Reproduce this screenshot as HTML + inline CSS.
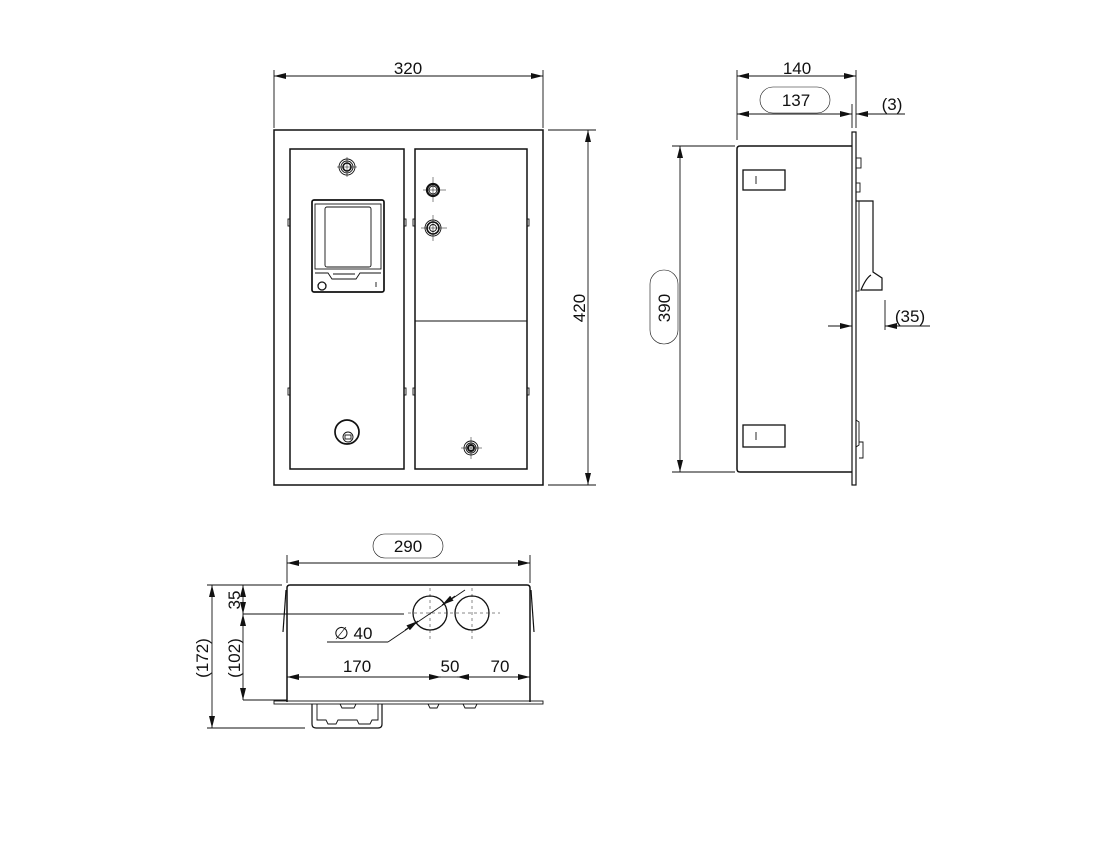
<!DOCTYPE html>
<html><head><meta charset="utf-8"><style>
html,body{margin:0;padding:0;background:#fff;}
svg{display:block;}
text{font-family:"Liberation Sans",sans-serif;font-size:17px;fill:#111;}
</style></head><body>
<svg width="1117" height="861" viewBox="0 0 1117 861" xmlns="http://www.w3.org/2000/svg">
<defs>
<marker id="a" viewBox="0 0 12 6" refX="12" refY="3" markerWidth="12" markerHeight="6" orient="auto-start-reverse" markerUnits="userSpaceOnUse"><path d="M0,0 L12,3 L0,6 z" fill="#111"/></marker>
</defs>
<g stroke="#111" fill="none" stroke-width="0.9">
<!-- FRONT VIEW -->
<line x1="274" y1="70" x2="274" y2="128"/><line x1="543" y1="70" x2="543" y2="128"/>
<line x1="274" y1="76" x2="543" y2="76" marker-start="url(#a)" marker-end="url(#a)"/>
<line x1="548" y1="130" x2="596" y2="130"/><line x1="548" y1="485" x2="596" y2="485"/>
<line x1="588" y1="130" x2="588" y2="485" marker-start="url(#a)" marker-end="url(#a)"/>
<rect x="274" y="130" width="269" height="355" stroke-width="1.5"/>
<rect x="290" y="149" width="114" height="320" stroke-width="1.5"/>
<rect x="415" y="149" width="112" height="320" stroke-width="1.5"/>
<line x1="415" y1="321" x2="527" y2="321" stroke-width="1.1"/>
<rect x="288" y="219" width="2" height="7"/><rect x="404" y="219" width="2" height="7"/><rect x="413" y="219" width="2" height="7"/><rect x="527" y="219" width="2" height="7"/>
<rect x="288" y="388" width="2" height="7"/><rect x="404" y="388" width="2" height="7"/><rect x="413" y="388" width="2" height="7"/><rect x="527" y="388" width="2" height="7"/>
<circle cx="347" cy="167" r="8"/><circle cx="347" cy="167" r="6"/><circle cx="347" cy="167" r="4" stroke-width="1.6"/>
<line x1="337" y1="167" x2="357" y2="167" stroke-width="0.5"/><line x1="347" y1="157" x2="347" y2="177" stroke-width="0.5"/>
<rect x="312" y="200" width="72" height="92" rx="2" stroke-width="1.7"/>
<rect x="315" y="204" width="66" height="65"/>
<rect x="325" y="207" width="46" height="60" rx="2"/>
<path d="M315,273 L328,273 L332,279 L356,279 L360,273 L381,273" />
<line x1="333" y1="274" x2="355" y2="274"/>
<circle cx="322" cy="286" r="4" stroke-width="1.3"/>
<line x1="376" y1="282" x2="376" y2="287"/>
<circle cx="433" cy="190" r="6" stroke-width="2.2"/><circle cx="433" cy="190" r="4"/>
<line x1="423" y1="190" x2="446" y2="190" stroke-width="0.5"/><line x1="433" y1="177" x2="433" y2="202" stroke-width="0.5"/>
<circle cx="433" cy="228" r="8"/><circle cx="433" cy="228" r="6" stroke-width="1.6"/><circle cx="433" cy="228" r="3.5"/>
<line x1="421" y1="228" x2="447" y2="228" stroke-width="0.5"/><line x1="433" y1="215" x2="433" y2="241" stroke-width="0.5"/>
<circle cx="347" cy="432" r="12" stroke-width="1.7"/>
<circle cx="348" cy="437" r="5"/><rect x="345" y="435" width="6" height="4"/>
<circle cx="471" cy="448" r="7"/><circle cx="471" cy="448" r="5"/><circle cx="471" cy="448" r="3" stroke-width="2"/>
<line x1="461" y1="448" x2="482" y2="448" stroke-width="0.5"/><line x1="471" y1="437" x2="471" y2="459" stroke-width="0.5"/>

<!-- SIDE VIEW -->
<line x1="737" y1="70" x2="737" y2="140"/><line x1="856" y1="70" x2="856" y2="128"/>
<line x1="737" y1="76" x2="856" y2="76" marker-start="url(#a)" marker-end="url(#a)"/>
<line x1="737" y1="114" x2="852" y2="114" marker-start="url(#a)" marker-end="url(#a)"/>
<line x1="852" y1="104" x2="852" y2="128"/>
<line x1="856" y1="114" x2="905" y2="114" marker-start="url(#a)"/>
<rect x="760" y="87" width="70" height="26" rx="13" stroke-width="0.6"/>
<line x1="672" y1="146" x2="735" y2="146"/><line x1="672" y1="472" x2="735" y2="472"/>
<line x1="680" y1="146" x2="680" y2="472" marker-start="url(#a)" marker-end="url(#a)"/>
<rect x="650" y="270" width="28" height="74" rx="14" stroke-width="0.6"/>
<path d="M737,149 Q737,146 740,146 L852,146" stroke-width="1.5"/>
<path d="M737,149 L737,469 Q737,472 740,472 L852,472" stroke-width="1.5"/>
<rect x="852" y="132" width="4" height="353" stroke-width="1.2"/>
<rect x="743" y="170" width="42" height="20" stroke-width="1.3"/><line x1="756" y1="176" x2="756" y2="184"/>
<rect x="743" y="425" width="42" height="22" stroke-width="1.3"/><line x1="756" y1="432" x2="756" y2="440"/>
<rect x="856" y="158" width="5" height="10"/><rect x="856" y="183" width="4" height="9"/>
<path d="M856,201 L873,201 L873,272 L882,278 L882,290 L861,290 Q866,278 871,275" stroke-width="1.2"/>
<rect x="856" y="201" width="3" height="90"/>
<path d="M856,420 L859,422 L859,445 L856,447" /><path d="M859,442 L863,442 L863,458 L859,458"/>
<line x1="885" y1="300" x2="885" y2="330"/>
<line x1="828" y1="326" x2="852" y2="326" marker-end="url(#a)"/>
<line x1="885" y1="326" x2="930" y2="326" marker-start="url(#a)"/>

<!-- BOTTOM VIEW -->
<line x1="287" y1="555" x2="287" y2="583"/><line x1="530" y1="555" x2="530" y2="583"/>
<line x1="287" y1="563" x2="530" y2="563" marker-start="url(#a)" marker-end="url(#a)"/>
<rect x="373" y="534" width="70" height="24" rx="12" stroke-width="0.6"/>
<path d="M287,702 L287,588 Q287,585 290,585 L527,585 Q530,585 530,588 L530,702" stroke-width="1.5"/>
<path d="M286,590 L283,632" stroke-width="1.2"/><path d="M531,590 L534,632" stroke-width="1.2"/>
<rect x="274" y="701" width="269" height="3"/>
<path d="M312,704 L312,724 Q312,728 316,728 L378,728 Q382,728 382,724 L382,704" stroke-width="1.2"/>
<path d="M317,704 L317,720 L326,720 L328,724 L336,724 L338,720 L357,720 L359,724 L370,724 L372,720 L378,720 L378,704"/>
<path d="M340,704 L342,708 L354,708 L356,704"/>
<path d="M428,704 L430,708 L437,708 L439,704"/><path d="M463,704 L465,708 L475,708 L477,704"/>
<circle cx="430" cy="613" r="17" stroke-width="1.3"/><circle cx="472" cy="613" r="17" stroke-width="1.3"/>
<g stroke-dasharray="3,3" stroke-width="0.5">
<line x1="408" y1="613" x2="500" y2="613"/><line x1="430" y1="588" x2="430" y2="640"/><line x1="472" y1="588" x2="472" y2="640"/>
</g>
<line x1="243" y1="614" x2="404" y2="614"/>
<line x1="327" y1="642" x2="388" y2="642"/><line x1="388" y1="642" x2="465" y2="590"/>
<line x1="405" y1="630" x2="418" y2="621" marker-end="url(#a)"/>
<line x1="455" y1="596" x2="442" y2="605" marker-end="url(#a)"/>
<line x1="207" y1="585" x2="282" y2="585"/>
<line x1="243" y1="700" x2="287" y2="700"/>
<line x1="207" y1="728" x2="305" y2="728"/>
<line x1="243" y1="585" x2="243" y2="614" marker-start="url(#a)" marker-end="url(#a)"/>
<line x1="243" y1="614" x2="243" y2="700" marker-start="url(#a)" marker-end="url(#a)"/>
<line x1="212" y1="585" x2="212" y2="728" marker-start="url(#a)" marker-end="url(#a)"/>
<line x1="287" y1="677" x2="441" y2="677" marker-start="url(#a)" marker-end="url(#a)"/>
<line x1="416" y1="677" x2="441" y2="677"/>
<line x1="441" y1="677" x2="457" y2="677" />
<line x1="457" y1="677" x2="484" y2="677" marker-start="url(#a)"/>
<line x1="484" y1="677" x2="530" y2="677" marker-end="url(#a)"/>
</g>
<text x="408" y="74" text-anchor="middle">320</text>
<text x="797" y="74" text-anchor="middle">140</text>
<text x="796" y="106" text-anchor="middle">137</text>
<text x="892" y="110" text-anchor="middle" font-size="15">(3)</text>
<text x="910" y="322" text-anchor="middle" font-size="16">(35)</text>
<text x="408" y="552" text-anchor="middle">290</text>
<text x="357" y="672" text-anchor="middle">170</text>
<text x="450" y="672" text-anchor="middle">50</text>
<text x="500" y="672" text-anchor="middle">70</text>
<text x="334" y="639">∅ 40</text>
<text transform="translate(585,308) rotate(-90)" text-anchor="middle">420</text>
<text transform="translate(670,308) rotate(-90)" text-anchor="middle">390</text>
<text transform="translate(240,600) rotate(-90)" text-anchor="middle">35</text>
<text transform="translate(240,658) rotate(-90)" text-anchor="middle">(102)</text>
<text transform="translate(208,658) rotate(-90)" text-anchor="middle">(172)</text>
</svg>
</body></html>
